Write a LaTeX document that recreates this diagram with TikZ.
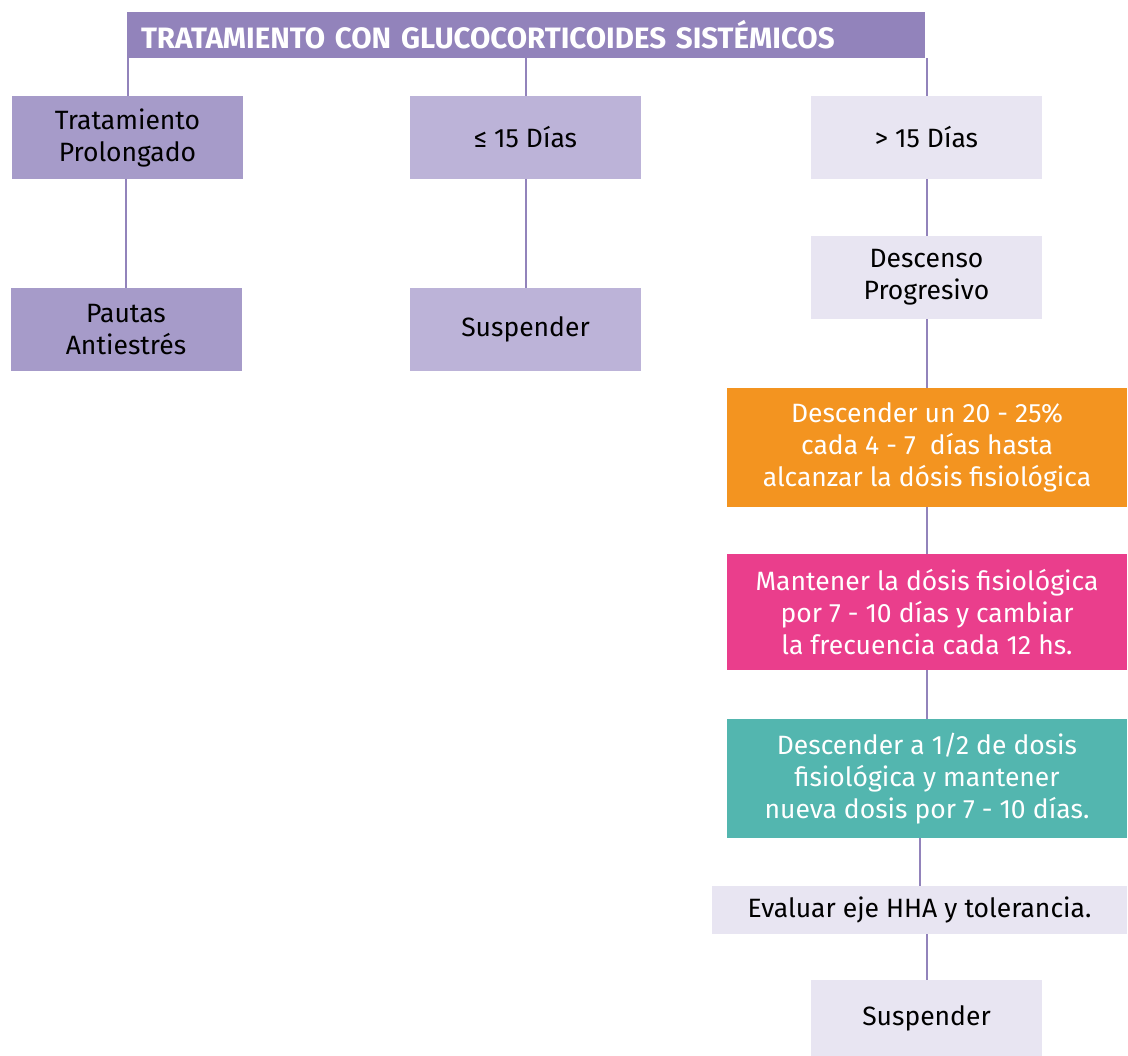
\documentclass[tikz,border=0pt]{standalone}
\usepackage{fontspec}
\setmainfont{Fira Sans}
\definecolor{hdrc}{HTML}{9283BB}
\definecolor{darkc}{HTML}{A69BC9}
\definecolor{midc}{HTML}{BCB3D8}
\definecolor{lightc}{HTML}{E8E5F2}
\definecolor{orangec}{HTML}{F39420}
\definecolor{pinkc}{HTML}{EA3E8C}
\definecolor{tealc}{HTML}{53B6AF}
\begin{document}
\begin{tikzpicture}
  [x=1pt,y=-1pt,
   every node/.style={rectangle,inner sep=0pt,align=center,
     font=\fontsize{26.5}{32}\selectfont},
   box/.style={minimum width=231pt,minimum height=83pt},
   wide/.style={minimum width=400pt,text=white},
   link/.style={draw=hdrc,line width=2pt}]
  \useasboundingbox (0,0) rectangle (1128,1056);

  \node[fill=hdrc,text=white,text width=770pt,inner xsep=14pt,align=left,
        minimum height=46pt,font=\bfseries\fontsize{29.5}{32}\selectfont]
        (hdr) at (526,35) {TRATAMIENTO CON GLUCOCORTICOIDES SISTÉMICOS};

  \node[box,fill=darkc]  (trat)   at (127.5,137.5) {Tratamiento\\Prolongado};
  \node[box,fill=midc]   (corto)  at (525.5,137.5) {≤ 15 Días};
  \node[box,fill=lightc] (largo)  at (926.5,137.5) {> 15 Días};

  \node[box,fill=darkc]  (pautas) at (126,329.5)   {Pautas\\Antiestrés};
  \node[box,fill=midc]   (susp)   at (525.5,329.5) {Suspender};
  \node[box,fill=lightc] (desc)   at (926.5,277.5) {Descenso\\Progresivo};

  \node[wide,fill=orangec,minimum height=119pt] (paso1) at (927,447.5)
    {Descender un 20 - 25\%\\cada 4 - 7\ \ días hasta\\alcanzar la dósis fisiológica};
  \node[wide,fill=pinkc,minimum height=116pt] (paso2) at (927,612)
    {Mantener la dósis fisiológica\\por 7 - 10 días y cambiar\\la frecuencia cada 12 hs.};
  \node[wide,fill=tealc,minimum height=119pt] (paso3) at (927,778.5)
    {Descender a 1/2 de dosis\\fisiológica y mantener\\nueva dosis por 7 - 10 días.};
  \node[fill=lightc,minimum width=415pt,minimum height=48pt] (eval) at (919.5,910)
    {Evaluar eje HHA y tolerancia.};
  \node[fill=lightc,minimum width=231pt,minimum height=76pt] (fin) at (926.5,1018)
    {Suspender};

  \foreach \to in {trat,corto,largo}
    \draw[link] (\to.north |- hdr.south) -- (\to.north);
  \foreach \from/\to in {trat/pautas,corto/susp,largo/desc,desc/paso1,
      paso1/paso2,paso2/paso3,paso3/eval,eval/fin}
    \draw[link] (\to.north |- \from.south) -- (\to.north);
\end{tikzpicture}
\end{document}
